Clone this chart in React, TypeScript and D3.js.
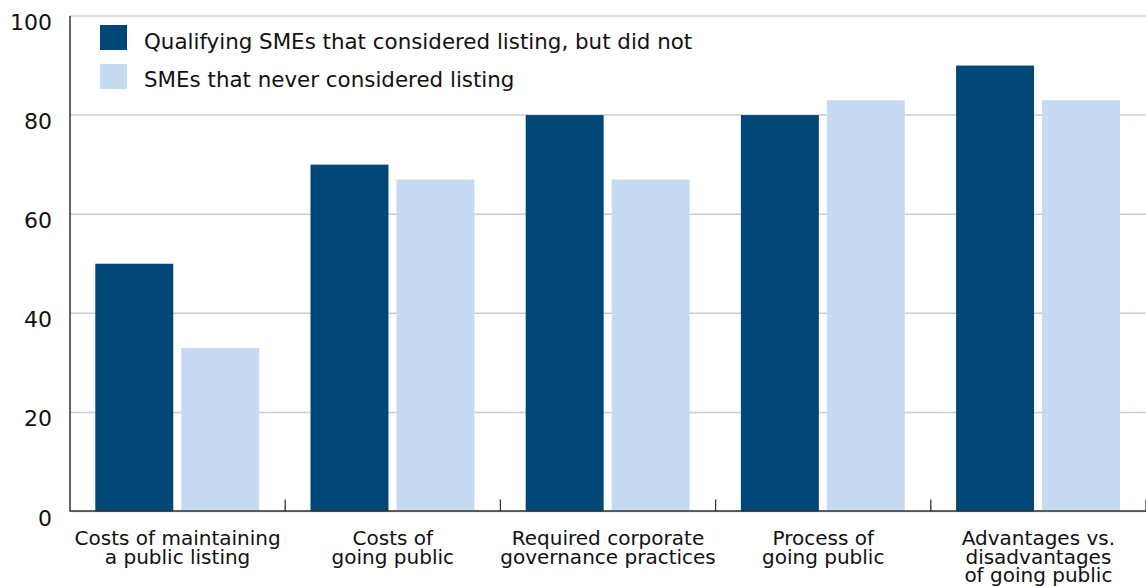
import React from "react";
import * as d3 from "d3";

const categories: string[][] = [
  ["Costs of maintaining", "a public listing"],
  ["Costs of", "going public"],
  ["Required corporate", "governance practices"],
  ["Process of", "going public"],
  ["Advantages vs.", "disadvantages", "of going public"],
];
const seriesNames = [
  "Qualifying SMEs that considered listing, but did not",
  "SMEs that never considered listing",
];
const qualifying = [50, 70, 80, 80, 90];
const never = [33, 67, 67, 83, 83];
const yTicks = [0, 20, 40, 60, 80, 100];
const colors = ["#004677", "#c6dbf1"];

const W = 1146;
const H = 586;
const left = 70;
const right = 1146;
const top = 16;
const bottom = 511.5;
const font = "'DejaVu Sans', sans-serif";

export default function App() {
  const x = d3
    .scaleBand<number>()
    .domain(categories.map((_, i) => i))
    .range([left, right]);
  const inner = d3
    .scaleBand<number>()
    .domain([0, 1])
    .range([25.3, x.bandwidth() - 26])
    .paddingInner(8 / 86);
  const y = d3.scaleLinear().domain([0, 100]).range([bottom, top]);
  const series = [qualifying, never];

  return (
    <svg
      width={W}
      height={H}
      style={{ position: "absolute", left: 0, top: 0 }}
      fontFamily={font}
    >
      <rect width={W} height={H} fill="#fff" />
      {yTicks.map((t) => (
        <g key={t}>
          <line
            x1={left}
            x2={right}
            y1={y(t)}
            y2={y(t)}
            stroke="#cccccc"
            strokeWidth={1.5}
          />
          <text
            x={52}
            y={y(t) + 8}
            textAnchor="end"
            dominantBaseline="middle"
            fontSize={22}
            fill="#111"
          >
            {t}
          </text>
        </g>
      ))}
      {series.map((vals, s) =>
        vals.map((v, i) => (
          <rect
            key={`${s}-${i}`}
            x={(x(i) as number) + (inner(s) as number)}
            y={y(v)}
            width={inner.bandwidth()}
            height={y(0) - y(v)}
            fill={colors[s]}
          />
        ))
      )}
      <line x1={left} x2={left} y1={top} y2={bottom} stroke="#111" strokeWidth={1.3} />
      <line x1={left} x2={right} y1={bottom - 0.5} y2={bottom - 0.5} stroke="#333" strokeWidth={1.3} />
      {categories.map((_, i) => (
        <line
          key={i}
          x1={(x(i) as number) + x.bandwidth()}
          x2={(x(i) as number) + x.bandwidth()}
          y1={bottom - 12}
          y2={bottom}
          stroke="#333"
          strokeWidth={1.3}
        />
      ))}
      {categories.map((lines, i) => (
        <text
          key={i}
          x={(x(i) as number) + x.bandwidth() / 2}
          textAnchor="middle"
          fontSize={20}
          fill="#111"
        >
          {lines.map((l, j) => (
            <tspan key={j} x={(x(i) as number) + x.bandwidth() / 2} y={545 + j * 18.5}>
              {l}
            </tspan>
          ))}
        </text>
      ))}
      {seriesNames.map((n, s) => (
        <g key={n}>
          <rect x={100} y={25 + s * 39} width={27} height={25} fill={colors[s]} />
          <text x={144} y={43 + s * 38} dominantBaseline="middle" fontSize={21.4} fill="#111">
            {n}
          </text>
        </g>
      ))}
    </svg>
  );
}
